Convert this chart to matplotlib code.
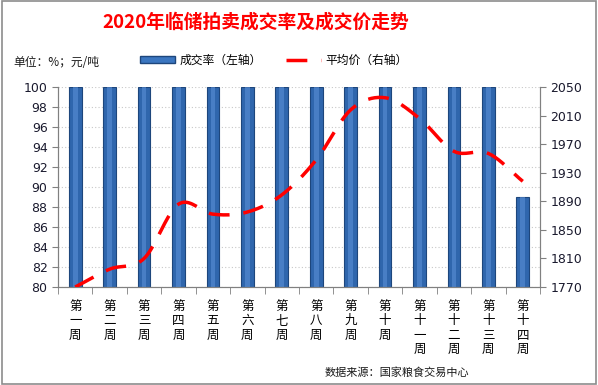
import numpy as np
import matplotlib.pyplot as plt
from matplotlib.patches import Rectangle
from matplotlib.lines import Line2D
from matplotlib.patches import Patch

plt.rcParams['font.family'] = ['Noto Sans CJK SC', 'DejaVu Sans']

# 数据
weeks = ['第一周', '第二周', '第三周', '第四周', '第五周', '第六周', '第七周',
         '第八周', '第九周', '第十周', '第十一周', '第十二周', '第十三周', '第十四周']
rate = [100, 100, 100, 100, 100, 100, 100, 100, 100, 100, 100, 100, 100, 89]
price = [1770, 1795, 1810, 1886, 1872, 1875, 1899, 1948, 2018, 2035, 2006, 1960, 1957, 1918]

# 竖排标签
def vlabel(s):
    return '\n'.join(s)

# 平滑曲线 (Catmull-Rom)
def smooth(x, y, n=20):
    x = np.asarray(x, float)
    y = np.asarray(y, float)
    px = np.concatenate([[2 * x[0] - x[1]], x, [2 * x[-1] - x[-2]]])
    py = np.concatenate([[2 * y[0] - y[1]], y, [2 * y[-1] - y[-2]]])
    xs, ys = [], []
    t = np.linspace(0, 1, n, endpoint=False)
    for i in range(1, len(px) - 2):
        for p, out in ((px, xs), (py, ys)):
            p0, p1, p2, p3 = p[i - 1], p[i], p[i + 1], p[i + 2]
            out.extend(0.5 * (2 * p1 + (-p0 + p2) * t + (2 * p0 - 5 * p1 + 4 * p2 - p3) * t ** 2
                              + (-p0 + 3 * p1 - 3 * p2 + p3) * t ** 3))
    xs.append(x[-1])
    ys.append(y[-1])
    return np.array(xs), np.array(ys)

fig = plt.figure(figsize=(5.98, 3.85), dpi=100)
fig.patches.append(Rectangle((0.003, 0.003), 0.994, 0.994, transform=fig.transFigure,
                             fill=False, edgecolor='#8c8c8c', lw=1.2))

ax = fig.add_axes([0.097, 0.2545, 0.806, 0.5195])
x = np.arange(len(weeks))

ax.bar(x, rate, width=0.37, color='#2f66ad', edgecolor='#1d467c', lw=0.8, zorder=2)
ax.bar(x, rate, width=0.14, color='#5a8fd6', lw=0, alpha=0.6, zorder=2)
ax.set_ylim(80, 100)
ax.set_xlim(-0.5, len(weeks) - 0.5)
ax.set_yticks(np.arange(80, 101, 2))
ax.yaxis.grid(True, linestyle=(0, (1, 2)), color='#c8c8c8', lw=0.8)
ax.set_axisbelow(True)
ax.tick_params(axis='y', labelsize=9, length=4, color='#808080', labelcolor='#1a1a2e')
for lb in ax.get_yticklabels():
    lb.set_family('DejaVu Sans')

ax.set_xticks(x)
ax.set_xticklabels([vlabel(w) for w in weeks], fontsize=9, linespacing=1.15, va='top')
ax.set_xticks(np.arange(-0.5, len(weeks)), minor=True)
ax.tick_params(axis='x', which='major', length=0, pad=9)
ax.tick_params(axis='x', which='minor', length=5, color='#808080')

for s in ['top']:
    ax.spines[s].set_visible(False)
for s in ['left', 'bottom', 'right']:
    ax.spines[s].set_color('#808080')

ax2 = ax.twinx()
sx, sy = smooth(x, price)
ax2.plot(sx, sy, color='#ff0000', lw=2.5, dashes=(6, 4), zorder=3)
ax2.set_ylim(1770, 2050)
ax2.set_yticks(np.arange(1770, 2051, 40))
ax2.tick_params(axis='y', labelsize=9, length=4, color='#808080', labelcolor='#1a1a2e')
for lb in ax2.get_yticklabels():
    lb.set_family('DejaVu Sans')
ax2.spines['top'].set_visible(False)
for s in ['left', 'bottom', 'right']:
    ax2.spines[s].set_color('#808080')

fig.text(0.428, 0.943, '2020年临储拍卖成交率及成交价走势', color='#ff0000',
         fontsize=13.5, fontweight='bold', ha='center', va='center')
fig.text(0.022, 0.838, '单位：%；元/吨', fontsize=8.5, va='center', color='#1a1a1a')

handles = [Patch(facecolor='#3b76c0', edgecolor='#1d467c'),
           Line2D([0], [0], color='#ff0000', lw=2.5, dashes=(6, 4))]
fig.legend(handles, ['成交率（左轴）', '平均价（右轴）'], loc='center', ncol=2,
           bbox_to_anchor=(0.458, 0.843), frameon=False, fontsize=8.5,
           handlelength=3.0, handleheight=0.5, columnspacing=2.0, handletextpad=0.4)

fig.text(0.785, 0.033, '数据来源：国家粮食交易中心', fontsize=8, ha='right', va='center',
         color='#1a1a1a')

fig.savefig('out.png', dpi=100)
